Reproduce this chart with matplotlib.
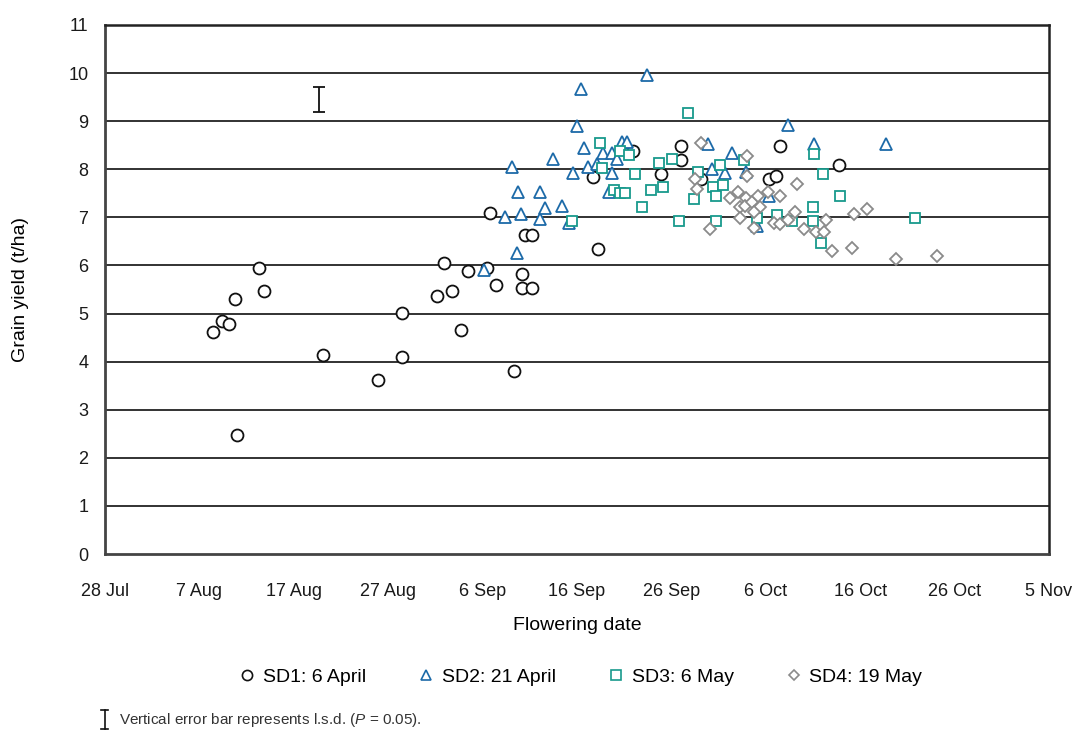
import matplotlib
matplotlib.use("Agg")
import matplotlib.pyplot as plt
from matplotlib.lines import Line2D

plt.rcParams["font.family"] = ["Liberation Sans", "DejaVu Sans"]
plt.rcParams["mathtext.fontset"] = "custom"
plt.rcParams["mathtext.it"] = "Liberation Sans:italic"
plt.rcParams["mathtext.rm"] = "Liberation Sans"

# flowering date as days after 28 July, grain yield in t/ha
sd1_day = [11.4, 12.35, 13.1, 13.8, 16.3, 16.8, 14.0, 23.1, 28.9, 31.45, 31.45,
           35.2, 35.9, 36.8, 37.7, 38.4, 40.8, 40.5, 41.4, 43.3, 44.2, 44.2,
           45.2, 44.5, 45.2, 51.7, 52.2, 55.9, 58.9, 61.0, 61.0, 63.1, 70.3,
           71.05, 71.5, 77.8]
sd1_yield = [4.61, 4.84, 4.78, 5.30, 5.94, 5.47, 2.47, 4.14, 3.62, 5.01, 4.09,
             5.36, 6.05, 5.47, 4.66, 5.88, 7.10, 5.95, 5.59, 3.80, 5.82, 5.54,
             5.54, 6.63, 6.63, 7.84, 6.34, 8.37, 7.91, 8.48, 8.20, 7.80, 7.80,
             7.85, 8.48, 8.08]

sd2_day = [40.15, 42.4, 43.1, 43.6, 43.8, 44.05, 46.1, 46.1, 46.6, 47.5, 48.4,
           49.1, 49.55, 50.0, 50.45, 50.7, 51.2, 52.1, 52.8, 53.4, 53.7, 53.7,
           54.2, 54.8, 55.3, 57.4, 63.85, 64.3, 65.7, 66.4, 67.95, 69.1, 70.3,
           72.3, 75.15, 82.7]
sd2_yield = [5.91, 7.01, 8.05, 6.25, 7.53, 7.07, 7.53, 6.96, 7.19, 8.22, 7.24,
             6.88, 7.93, 8.91, 9.66, 8.45, 8.05, 8.11, 8.33, 7.53, 8.34, 7.93,
             8.21, 8.57, 8.57, 9.96, 8.52, 8.00, 7.92, 8.34, 7.95, 6.81, 7.44,
             8.92, 8.52, 8.52]

sd3_day = [49.45, 52.45, 52.7, 53.9, 54.55, 54.55, 55.1, 55.55, 56.15, 56.85,
           57.8, 58.7, 59.1, 60.05, 60.8, 61.75, 62.4, 62.85, 64.45, 64.7, 64.7,
           65.15, 65.45, 67.7, 69.1, 71.15, 72.8, 74.95, 74.95, 75.15, 75.85,
           76.05, 77.9, 85.8]
sd3_yield = [6.93, 8.55, 8.03, 7.56, 8.38, 7.50, 7.51, 8.30, 7.91, 7.22, 7.57,
             8.14, 7.63, 8.21, 6.93, 9.18, 7.38, 7.94, 7.63, 7.44, 6.93, 8.09,
             7.67, 8.20, 6.98, 7.05, 6.92, 7.22, 6.92, 8.32, 6.46, 7.91, 7.44,
             6.98]

sd4_day = [63.15, 68.0, 68.0, 62.45, 62.7, 64.1, 66.2, 67.1, 67.95, 67.25,
           67.85, 68.55, 69.15, 69.4, 68.7, 70.2, 71.5, 73.35, 67.3, 68.75,
           70.9, 71.5, 72.3, 73.1, 74.05, 75.35, 76.15, 76.4, 77.05, 79.15,
           79.35, 80.75, 83.8, 88.15]
sd4_yield = [8.55, 8.27, 7.85, 7.80, 7.58, 6.76, 7.40, 7.53, 7.41, 7.22, 7.23,
             7.32, 7.45, 7.22, 7.12, 7.52, 7.45, 7.69, 6.99, 6.77, 6.89, 6.87,
             6.95, 7.12, 6.76, 6.70, 6.70, 6.94, 6.30, 6.36, 7.06, 7.17, 6.13,
             6.19]

lsd_day = 22.7
lsd_low, lsd_high = 9.19, 9.71

tick_days = [0, 10, 20, 30, 40, 50, 60, 70, 80, 90, 100]
tick_labels = ["28 Jul", "7 Aug", "17 Aug", "27 Aug", "6 Sep", "16 Sep",
               "26 Sep", "6 Oct", "16 Oct", "26 Oct", "5 Nov"]

series = [
    (sd1_day, sd1_yield, "o", "#111111", 8.6, "SD1: 6 April"),
    (sd2_day, sd2_yield, "^", "#1c6aa8", 9.2, "SD2: 21 April"),
    (sd3_day, sd3_yield, "s", "#189a8c", 7.8, "SD3: 6 May"),
    (sd4_day, sd4_yield, "D", "#8a8a8a", 6.4, "SD4: 19 May"),
]

fig = plt.figure(figsize=(10.74, 7.33), dpi=100)
ax = fig.add_axes([0.0978, 0.2442, 0.8789, 0.7217])

for y in range(1, 11):
    ax.axhline(y, color="#222222", lw=1.3, zorder=1)

handles = []
for xs, ys, mk, col, ms, lab in series:
    ax.plot(xs, ys, linestyle="none", marker=mk, markersize=ms,
            markerfacecolor="white", markeredgecolor=col,
            markeredgewidth=1.3, zorder=3)
    handles.append(Line2D([], [], linestyle="none", marker=mk,
                          markersize=ms * 0.85, markerfacecolor="white",
                          markeredgecolor=col, markeredgewidth=1.2, label=lab))

# l.s.d. bar
lsd_mid = (lsd_low + lsd_high) / 2
ax.errorbar([lsd_day], [lsd_mid], yerr=[(lsd_high - lsd_low) / 2],
            fmt="none", ecolor="#111111", elinewidth=1.3, capsize=4,
            capthick=1.3, zorder=4)

ax.set_xlim(0, 100)
ax.set_ylim(0, 11)
ax.set_xticks(tick_days)
ax.set_xticklabels(tick_labels)
ax.set_yticks(range(0, 12))
ax.tick_params(axis="both", labelsize=13, colors="#1a1a1a", length=0)
ax.tick_params(axis="y", pad=12)
ax.tick_params(axis="x", pad=21)

for side in ["left", "bottom"]:
    ax.spines[side].set_linewidth(2.0)
    ax.spines[side].set_color("#444444")
for side in ["top", "right"]:
    ax.spines[side].set_linewidth(1.8)
    ax.spines[side].set_color("#222222")

ax.set_xlabel("Flowering date", fontsize=14, labelpad=12)
ax.set_ylabel("Grain yield (t/ha)", fontsize=14, labelpad=28)

fig.legend(handles=handles, loc="center", bbox_to_anchor=(0.54, 0.076),
           ncol=4, frameon=False, fontsize=14, columnspacing=2.6,
           handletextpad=0.3, handlelength=1.0)

# footnote with its small l.s.d. symbol
fx, fy0, fy1 = 0.0975, 0.006, 0.032
fig.add_artist(Line2D([fx, fx], [fy0, fy1], color="#111111", lw=1.2))
fig.add_artist(Line2D([fx - 0.003, fx + 0.003], [fy0, fy0], color="#111111", lw=1.2))
fig.add_artist(Line2D([fx - 0.003, fx + 0.003], [fy1, fy1], color="#111111", lw=1.2))
fig.text(0.111, 0.018, r"Vertical error bar represents l.s.d. ($P$ = 0.05).",
         fontsize=11, color="#333333", va="center")

fig.savefig("out.png", dpi=100, facecolor="white")
